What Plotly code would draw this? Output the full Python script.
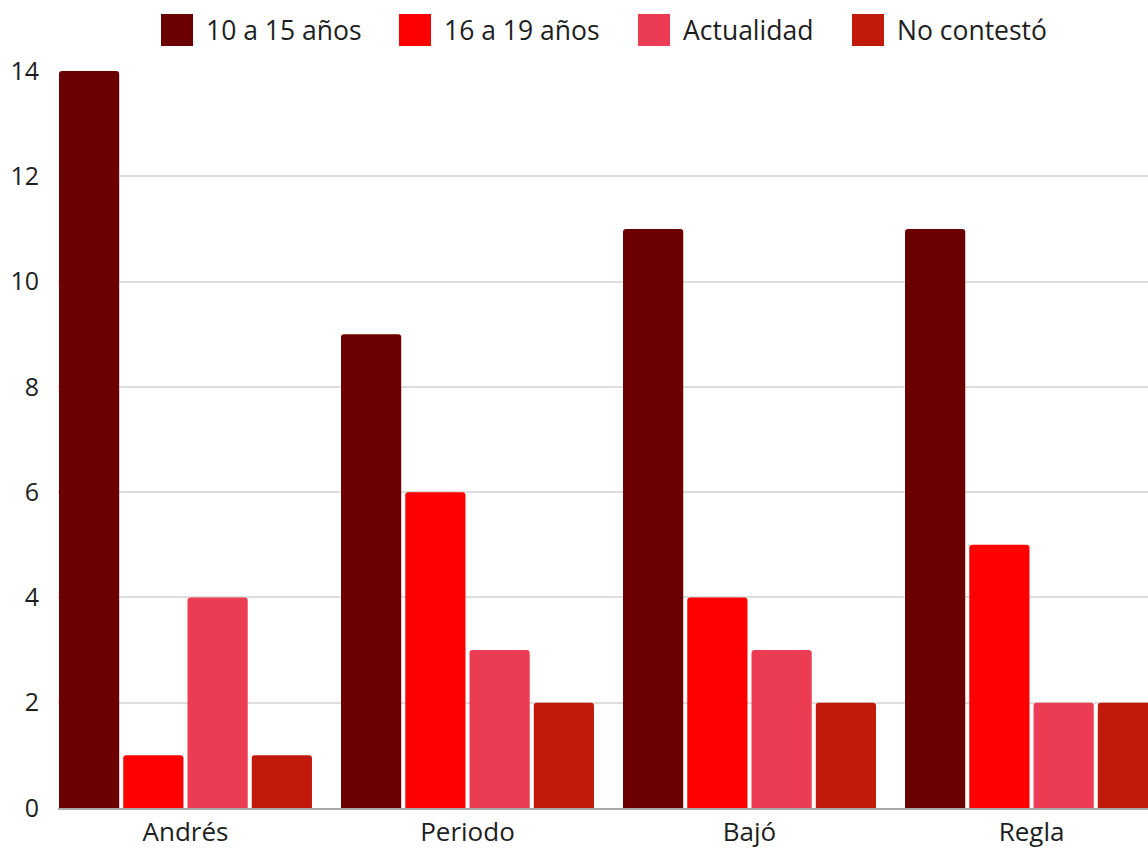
import plotly.graph_objects as go

# Categories and series
categories = ["Andrés", "Periodo", "Bajó", "Regla"]
series_names = ["10 a 15 años", "16 a 19 años", "Actualidad", "No contestó"]
values_10_15 = [14, 9, 11, 11]
values_16_19 = [1, 6, 4, 5]
values_actualidad = [4, 3, 3, 2]
values_no_contesto = [1, 2, 2, 2]
series_values = [values_10_15, values_16_19, values_actualidad, values_no_contesto]
colors = ["#6b0000", "#ff0000", "#eb3c54", "#c21a0a"]
y_ticks = [0, 2, 4, 6, 8, 10, 12, 14]

W, H = 1148, 848
M_L, M_R, M_T, M_B = 58, 0, 71, 40
FONT = "Open Sans"
TEXT_COLOR = "#1e1e1e"

fig = go.Figure()
for name, vals, col in zip(series_names, series_values, colors):
    fig.add_trace(go.Bar(
        x=categories, y=vals, name=name,
        marker=dict(color=col, line=dict(width=0), cornerradius=3),
        showlegend=False,
    ))

# Custom legend row (large square swatches) in paper coordinates
plot_w = W - M_L - M_R
plot_h = H - M_T - M_B


def px_to_paper_x(px):
    return (px - M_L) / plot_w


def px_to_paper_y(py):
    return (H - M_B - py) / plot_h


swatch_left = [161, 399, 638, 852]
swatch_size = 32
swatch_top = 14
shapes = []
annotations = []
for name, col, sx in zip(series_names, colors, swatch_left):
    shapes.append(dict(
        type="rect", xref="paper", yref="paper",
        x0=px_to_paper_x(sx), x1=px_to_paper_x(sx + swatch_size),
        y0=px_to_paper_y(swatch_top + swatch_size), y1=px_to_paper_y(swatch_top),
        fillcolor=col, line=dict(width=0), layer="above",
    ))
    annotations.append(dict(
        xref="paper", yref="paper",
        x=px_to_paper_x(sx + swatch_size + 11), y=px_to_paper_y(swatch_top + swatch_size / 2),
        xanchor="left", yanchor="middle", showarrow=False,
        text=name, font=dict(family=FONT, size=26.5, color=TEXT_COLOR),
    ))

fig.update_layout(
    width=W, height=H,
    margin=dict(l=M_L, r=M_R, t=M_T, b=M_B, autoexpand=False),
    paper_bgcolor="white", plot_bgcolor="white",
    barmode="group", bargap=0.0886, bargroupgap=0.063,
    font=dict(family=FONT, size=25, color=TEXT_COLOR),
    shapes=shapes, annotations=annotations,
    xaxis=dict(
        range=[-0.452, 3.413], showgrid=False, automargin=False,
        showline=True, linecolor="#aaaaaa", linewidth=2,
        tickfont=dict(family=FONT, size=26, color=TEXT_COLOR),
        ticks="", ticklabelstandoff=0,
    ),
    yaxis=dict(
        range=[0, 14], tickvals=y_ticks, automargin=False,
        showgrid=True, gridcolor="#dddddd", gridwidth=1.5,
        zeroline=False, showline=False,
        tickfont=dict(family=FONT, size=25, color=TEXT_COLOR),
        ticks="", ticklabelstandoff=18,
    ),
)

fig.write_html("out.html")
